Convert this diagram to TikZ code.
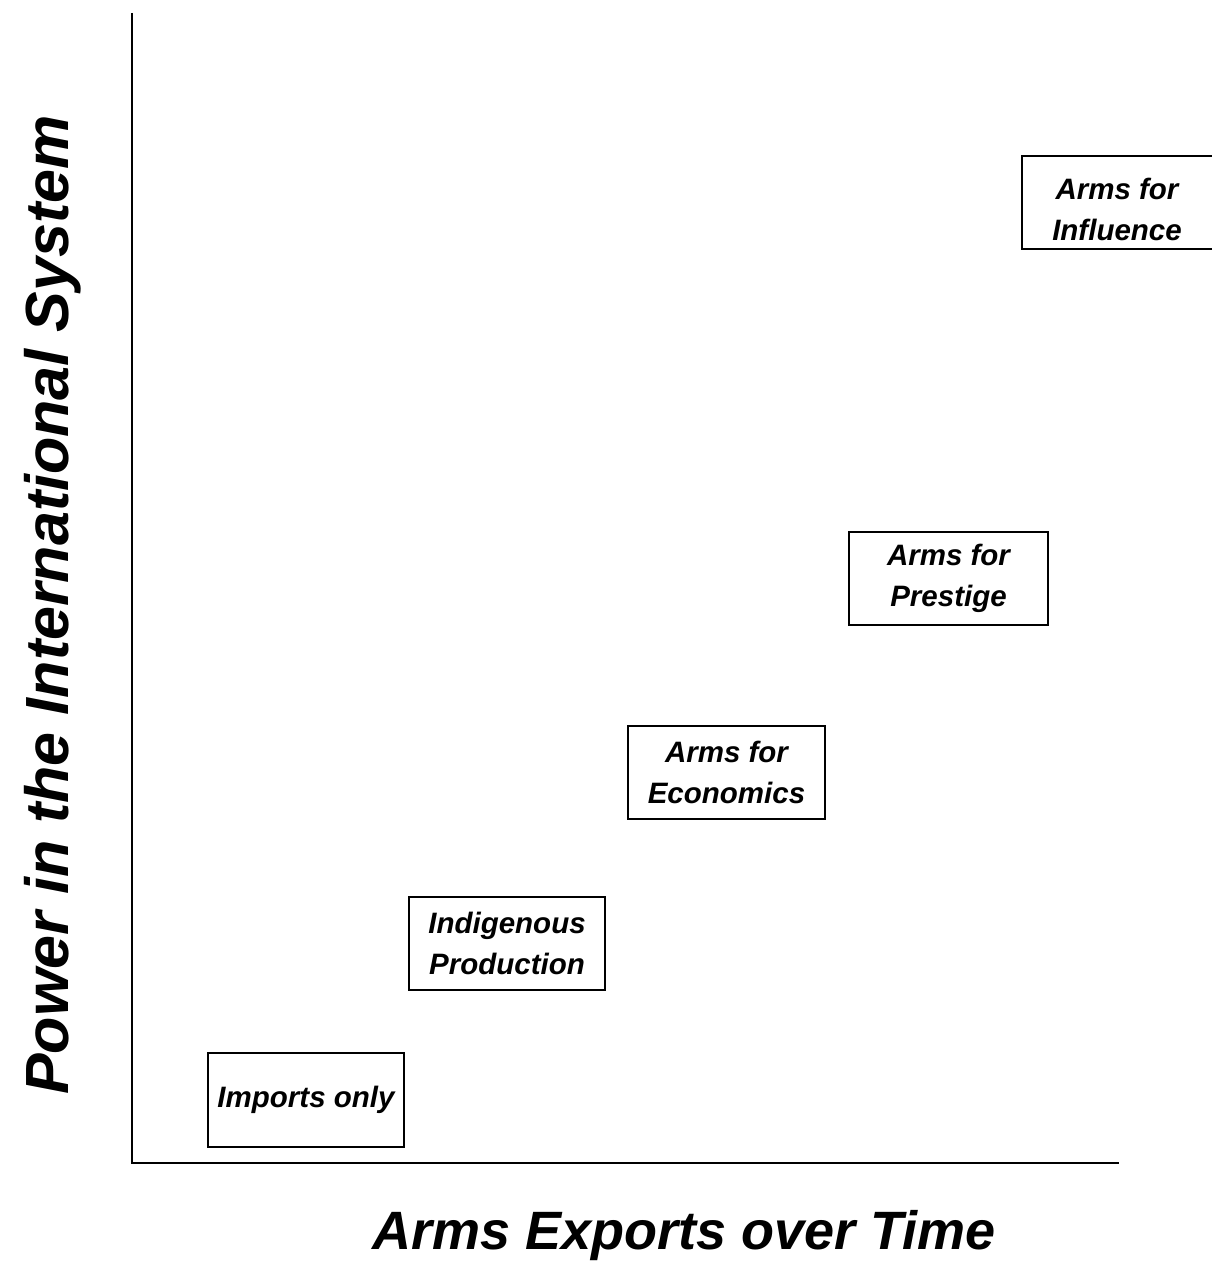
\documentclass[tikz,border=0pt]{standalone}
\usepackage{fontspec}
\setmainfont{Liberation Sans}
\begin{document}
\begin{tikzpicture}[x=1pt,y=-1pt]
\tikzset{
  stagebox/.style={draw=black, line width=1.1pt, fill=none, inner sep=0pt},
  stagetext/.style={font=\fontsize{29.5}{41}\selectfont\bfseries\itshape, align=center, inner sep=0pt},
  axislabel/.style={font=\fontsize{54}{60}\selectfont\bfseries\itshape, inner sep=0pt},
  ylabelstyle/.style={font=\fontsize{61}{66}\selectfont\bfseries\itshape, inner sep=0pt},
  axisline/.style={draw=black, line width=1.5pt}
}
\useasboundingbox (0,0) rectangle (1211,1271);
\fill[white] (0,0) rectangle (1211,1271);
% axes
\coordinate (ytop) at (132,13);
\coordinate (orig) at (132,1163);
\coordinate (xend) at (1119,1163);
\draw[axisline] (ytop) -- (orig) -- (xend);
% boxes
\node[stagebox, stagetext, minimum width=196pt, minimum height=94pt] (imp) at (306,1100) {Imports only};
\node[stagebox, stagetext, minimum width=196pt, minimum height=93pt] (ind) at (507,943.5) {Indigenous\\Production};
\node[stagebox, stagetext, minimum width=197pt, minimum height=93pt] (eco) at (726.5,772.5) {Arms for\\Economics};
\node[stagebox, stagetext, minimum width=199pt, minimum height=93pt] (pre) at (948.5,578.5) {Arms for\\Prestige};
\node[stagebox, minimum width=208pt, minimum height=93pt] (inf) at (1126,202.5) {};
\node[stagetext] (inftext) at (1117,209) {Arms for\\Influence};
% axis labels
\node[ylabelstyle, rotate=90] (ylab) at (53,605) {Power in the International System};
\node[axislabel] (xlab) at (684,1236) {Arms Exports over Time};
\end{tikzpicture}
\end{document}
